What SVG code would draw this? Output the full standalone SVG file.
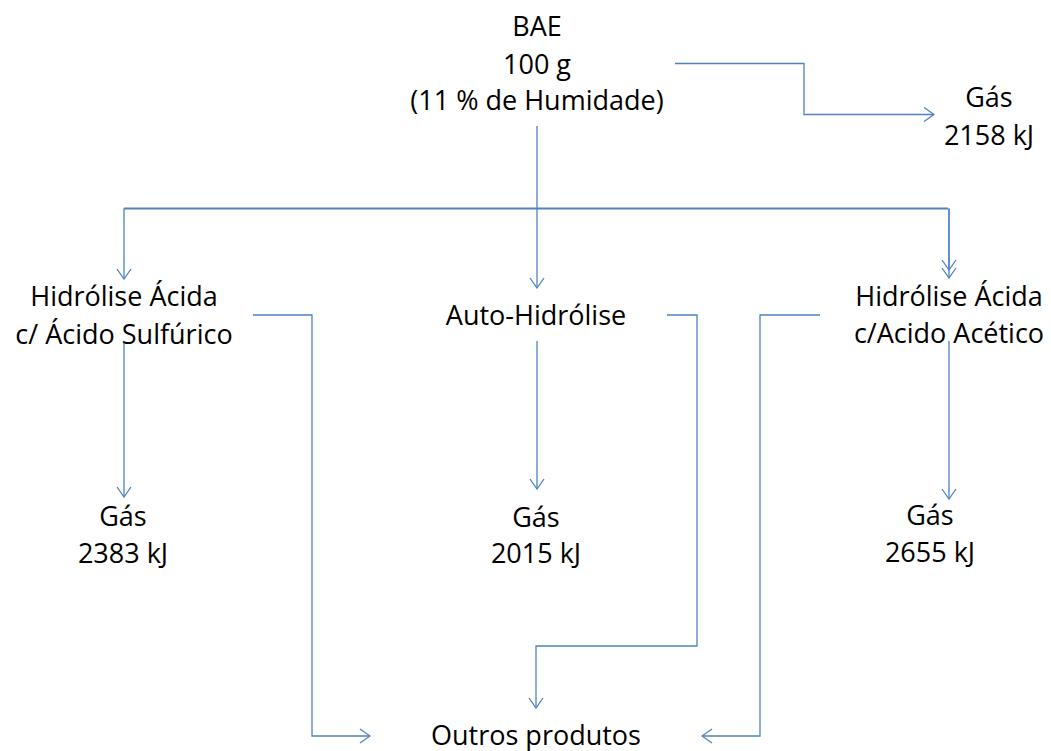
<svg xmlns="http://www.w3.org/2000/svg" width="1051" height="751" viewBox="0 0 1051 751">
<style>
text{font-family:"Open Sans","Liberation Sans",sans-serif;font-size:27px;fill:#000;text-anchor:middle}
.c{fill:none;stroke:#4f81bd;stroke-width:1.3}
.h{fill:none;stroke:#4f81bd;stroke-width:2}
</style>
<defs>
<marker id="a" viewBox="0 0 12 16" refX="11" refY="8" markerWidth="12" markerHeight="16" markerUnits="userSpaceOnUse" orient="auto">
<path d="M1,1 L11,8 L1,15" fill="none" stroke="#4f81bd" stroke-width="1.3"/>
</marker>
</defs>
<rect width="1051" height="751" fill="#fff"/>
<g id="connectors">
<path class="c" d="M675,63.5 H804 V114.5 H934" marker-end="url(#a)"/>
<path class="c" d="M537,126 V288" marker-end="url(#a)"/>
<path class="h" d="M537,208.5 H124"/>
<path class="h" d="M537,208.5 H948"/>
<path class="c" d="M124,208.5 V279" marker-end="url(#a)"/>
<path class="c" d="M949,208.5 V270" marker-end="url(#a)"/>
<path class="c" d="M949,208.5 V278" marker-end="url(#a)"/>
<path class="c" d="M124,341 V497" marker-end="url(#a)"/>
<path class="c" d="M537,341 V489" marker-end="url(#a)"/>
<path class="c" d="M949,341 V499" marker-end="url(#a)"/>
<path class="c" d="M253,315 H312 V736 H370" marker-end="url(#a)"/>
<path class="c" d="M667,315 H697 V646 H536 V708" marker-end="url(#a)"/>
<path class="c" d="M820,315 H760 V736 H702" marker-end="url(#a)"/>
</g>
<g id="bae"><text x="537" y="36">BAE</text><text x="537" y="74">100 g</text><text x="537" y="110">(11 % de Humidade)</text></g>
<g id="gas0"><text x="989" y="107">Gás</text><text x="989" y="145">2158 kJ</text></g>
<g id="hs"><text x="124" y="306">Hidrólise Ácida</text><text x="124" y="344">c/ Ácido Sulfúrico</text></g>
<g id="auto"><text x="536" y="325">Auto-Hidrólise</text></g>
<g id="ha"><text x="949" y="306">Hidrólise Ácida</text><text x="949" y="343">c/Acido Acético</text></g>
<g id="gas1"><text x="123" y="526">Gás</text><text x="123" y="563">2383 kJ</text></g>
<g id="gas2"><text x="536" y="527">Gás</text><text x="536" y="563">2015 kJ</text></g>
<g id="gas3"><text x="930" y="525">Gás</text><text x="930" y="562">2655 kJ</text></g>
<g id="outros"><text x="536" y="745">Outros produtos</text></g>
</svg>
